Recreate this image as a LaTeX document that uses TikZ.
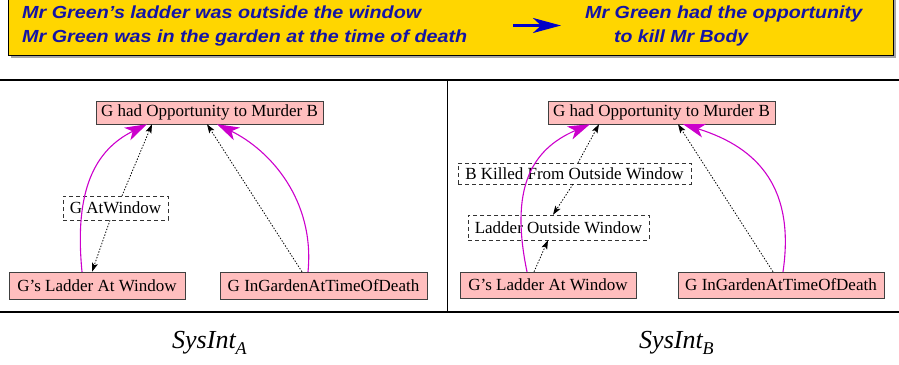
\documentclass[tikz,border=0pt]{standalone}
\usepackage{fontspec}
\usepackage{graphicx}
\setmainfont{Liberation Serif}
\newfontfamily\hv{Liberation Sans}
\usetikzlibrary{arrows.meta,calc}
\definecolor{pinkc}{RGB}{255,190,190}
\definecolor{magc}{RGB}{204,0,204}
\definecolor{bannery}{RGB}{255,214,0}
\definecolor{navyt}{RGB}{20,20,165}
\definecolor{arrb}{RGB}{0,0,200}
\tikzset{
  pbox/.style={draw=black!75, fill=pinkc, inner sep=0pt, font=\fontsize{17}{17}\selectfont},
  dbox/.style={draw=black!80, dash pattern=on 4pt off 3pt, fill=white, inner sep=0pt, font=\fontsize{17}{17}\selectfont},
  btext/.style={inner sep=0pt, text=navyt, font=\hv\bfseries\itshape\fontsize{17.5}{17.5}\selectfont},
  dotarr/.style={draw=black, line width=0.8pt, dash pattern=on 1.4pt off 1.6pt, -{Stealth[length=9pt,width=6pt,inset=2pt]}},
  magarr/.style={draw=magc, line width=1.1pt, -{Stealth[length=22pt,width=14pt,inset=6pt]}},
  captxt/.style={inner sep=0pt, font=\fontsize{26}{26}\selectfont\itshape}
}
\begin{document}
\begin{tikzpicture}[x=1pt,y=-1pt]
\useasboundingbox (0,0) rectangle (899,364);
% banner
\fill[black!35] (11,-2) rectangle (896,58);
\fill[bannery] (8,-2) rectangle (893,55);
\draw[line width=1pt] (8,-2) -- (8,55) -- (893,55) -- (893,-2);
\node[btext, anchor=base west] (b1) at (22,18) {\resizebox{399pt}{\height}{Mr Green’s ladder was outside the window}};
\node[btext, anchor=base west] (b2) at (22,42) {\resizebox{445pt}{\height}{Mr Green was in the garden at the time of death}};
\node[btext, anchor=base west] (b3) at (585,18) {\resizebox{277pt}{\height}{Mr Green had the opportunity}};
\node[btext, anchor=base west] (b4) at (614,42) {\resizebox{134pt}{\height}{to kill Mr Body}};
\coordinate (ba1) at (513,25.5);
\coordinate (ba2) at (561,25.5);
\draw[arrb, line width=2.8pt, -{Stealth[length=28pt,width=15pt,inset=8pt]}] (ba1) -- (ba2);
% frame lines
\draw[line width=1.2pt] (0,80) -- (899,80);
\draw[line width=1.5pt] (0,312) -- (899,312);
\draw[line width=0.8pt] (447.5,80) -- (447.5,312);
% left panel
\node[pbox, minimum width=227pt, minimum height=23pt] (top1) at (209.5,112.5) {G had Opportunity to Murder B};
\node[pbox, minimum width=176pt, minimum height=27pt] (lad1) at (97,285.5) {G’s Ladder At Window};
\node[pbox, minimum width=207pt, minimum height=27pt] (gar1) at (323.5,285.5) {G InGardenAtTimeOfDeath};
\node[dbox, minimum width=105pt, minimum height=24pt] (win1) at (115.5,208) {G AtWindow};
\draw[dotarr] ([xshift=6.5pt]win1.north) -- ([xshift=-57.5pt]top1.south);
\draw[dotarr] ([xshift=-5.5pt]win1.south) -- ([xshift=-5pt]lad1.north);
\draw[dotarr] ([xshift=-21.5pt]gar1.north) -- ([xshift=-2.5pt]top1.south);
\draw[magarr] ([xshift=-15pt]lad1.north) .. controls (74,190) and (95,150) .. ([xshift=-62.5pt]top1.south);
\draw[magarr] ([xshift=-15.5pt]gar1.north) .. controls (315,200) and (270,150) .. ([xshift=7.5pt]top1.south);
% right panel
\node[pbox, minimum width=227pt, minimum height=23pt] (top2) at (661.5,112.5) {G had Opportunity to Murder B};
\node[dbox, minimum width=233pt, minimum height=21pt] (bk2) at (574.5,173.5) {B Killed From Outside Window};
\node[dbox, minimum width=181pt, minimum height=25pt] (lo2) at (558.5,227.5) {Ladder Outside Window};
\node[pbox, minimum width=176pt, minimum height=26pt] (lad2) at (548,285) {G’s Ladder At Window};
\node[pbox, minimum width=206pt, minimum height=26pt] (gar2) at (781,285) {G InGardenAtTimeOfDeath};
\draw[dotarr] ([xshift=3.5pt]bk2.north) -- ([xshift=-62.5pt]top2.south);
\draw[dotarr] ([xshift=-1.5pt]bk2.south) -- ([xshift=-5.5pt]lo2.north);
\draw[dotarr] ([xshift=-14pt]lad2.north) -- ([xshift=-10.5pt]lo2.south);
\draw[dotarr] ([xshift=-8pt]gar2.north) -- ([xshift=16.5pt]top2.south);
\draw[magarr] ([xshift=-21pt]lad2.north) .. controls (510,190) and (530,150) .. ([xshift=-71.5pt]top2.south);
\draw[magarr] ([xshift=2pt]gar2.north) .. controls (795,190) and (760,148) .. ([xshift=21.5pt]top2.south);
% captions
\node[captxt, anchor=base west] (capA) at (172,348) {SysInt\raisebox{-6pt}{\fontsize{18}{18}\selectfont A}};
\node[captxt, anchor=base west] (capB) at (639,348) {SysInt\raisebox{-6pt}{\fontsize{18}{18}\selectfont B}};
\end{tikzpicture}
\end{document}
